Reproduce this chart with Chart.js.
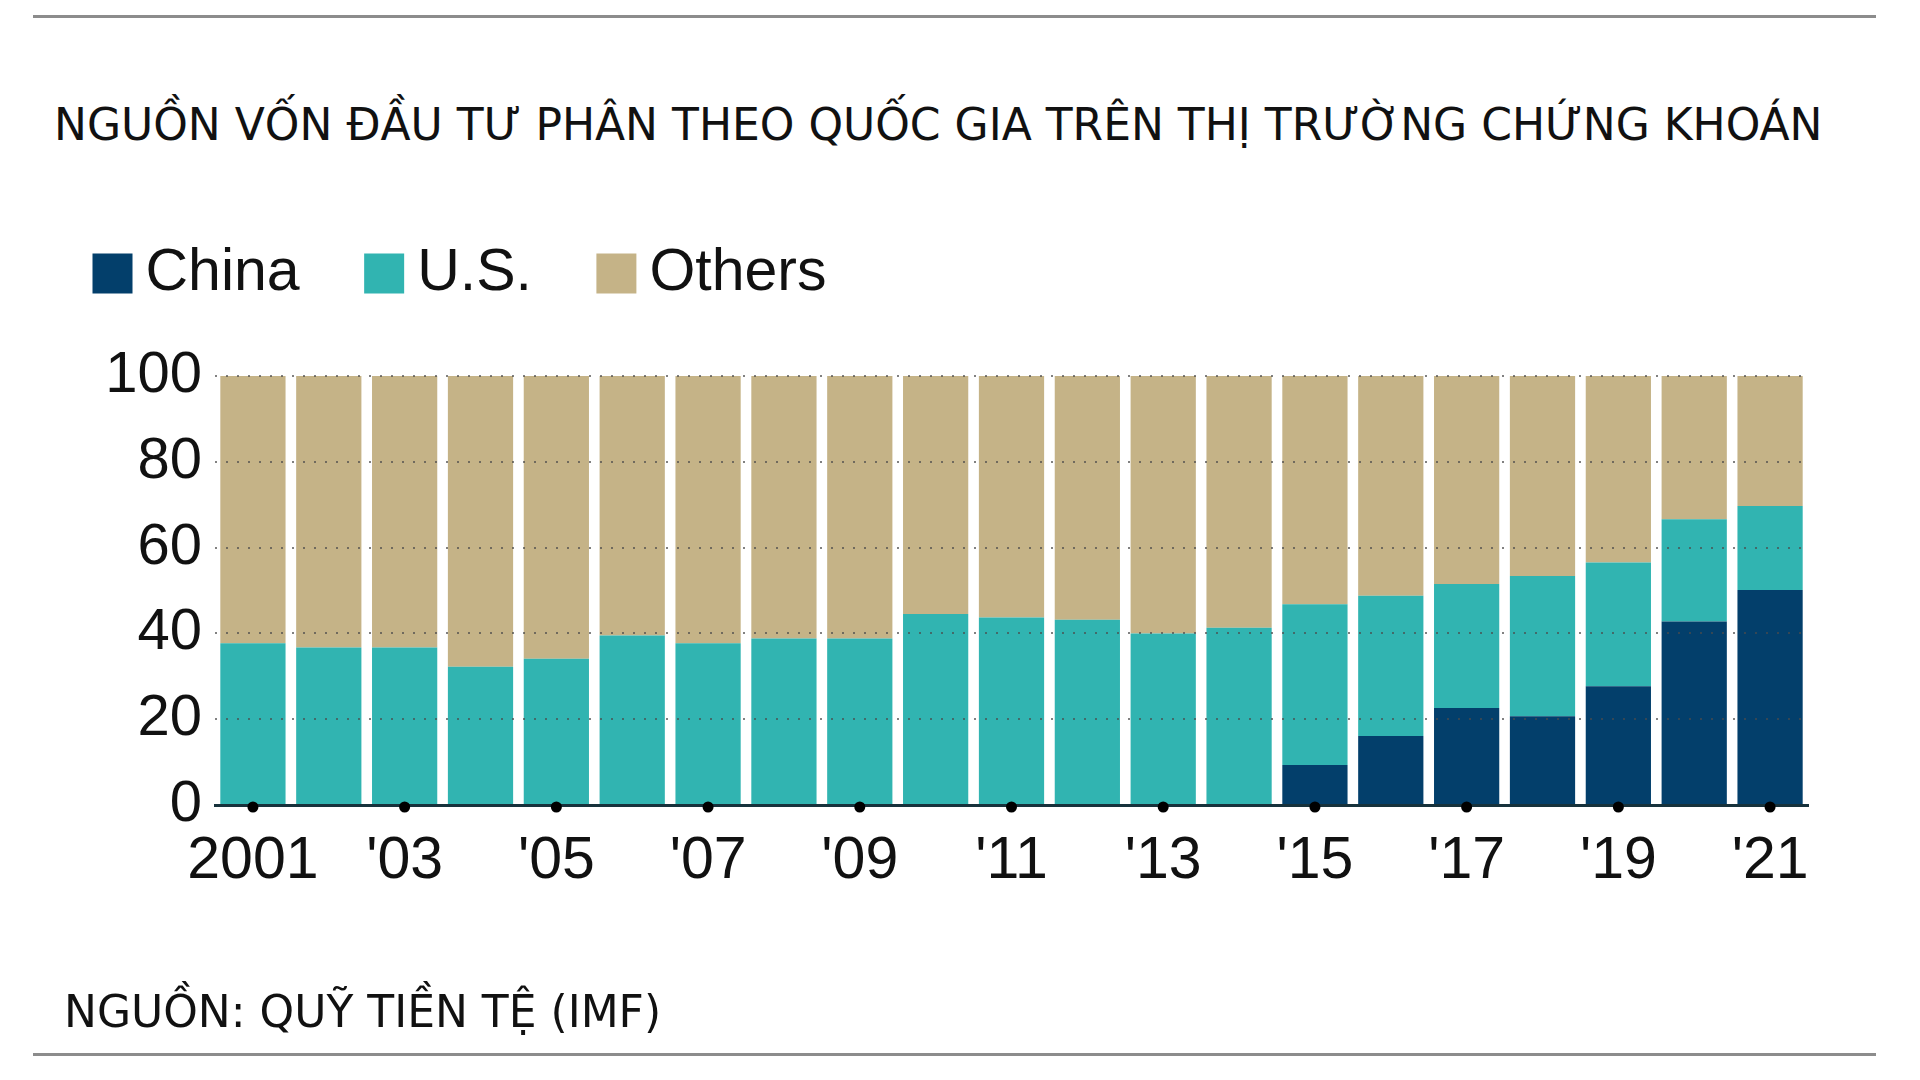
<!DOCTYPE html>
<html>
<head>
<meta charset="utf-8">
<script src="https://cdn.jsdelivr.net/npm/chart.js@4.4.1/dist/chart.umd.min.js"></script>
<style>
  body { margin: 0; background: #fff; }
  #wrap { position: relative; width: 1920px; height: 1080px; overflow: hidden; }
  #chart { position: absolute; left: 0; top: 0; }
  .rule { position: absolute; left: 33px; width: 1843px; height: 3px; background: #8c8c8c; }
  .txt { position: absolute; font-family: "DejaVu Sans", sans-serif; font-size: 44px; color: #111; white-space: nowrap; line-height: 1; }
</style>
</head>
<body>
<div id="wrap">
  <div class="rule" style="top:15px"></div>
  <div class="txt" id="title" style="left:54px; top:103px">NGUỒN VỐN ĐẦU TƯ PHÂN THEO QUỐC GIA TRÊN THỊ TRƯỜNG CHỨNG KHOÁN</div>
  <canvas id="chart" width="1920" height="1080"></canvas>
  <div class="txt" id="source" style="left:64px; top:990px">NGUỒN: QUỸ TIỀN TỆ (IMF)</div>
  <div class="rule" style="top:1053px"></div>
</div>
<script>
// years shown on the axis, odd years only get a label
const years = ["2001", "'02", "'03", "'04", "'05", "'06", "'07", "'08", "'09", "'10",
  "'11", "'12", "'13", "'14", "'15", "'16", "'17", "'18", "'19", "'20", "'21"];

// share of inflows, percent
const china = [0, 0, 0, 0, 0, 0, 0, 0, 0, 0, 0, 0, 0, 0, 9.3, 16.1, 22.6, 20.7, 27.7, 42.8, 50.1];
const us = [37.7, 36.7, 36.7, 32.2, 34.1, 39.5, 37.7, 38.8, 38.8, 44.5, 43.7, 43.2, 40.0, 41.3, 37.5, 32.7, 28.9, 32.7, 28.8, 23.8, 19.6];
const others = [62.3, 63.3, 63.3, 67.8, 65.9, 60.5, 62.3, 61.2, 61.2, 55.5, 56.3, 56.8, 60.0, 58.7, 53.2, 51.2, 48.5, 46.6, 43.5, 33.4, 30.3];

const yTicks = [0, 20, 40, 60, 80, 100];

const labelFont = "'Liberation Sans', Arial, sans-serif";

// extra room between legend and plot
const legendGap = {
  id: "legendGap",
  beforeInit(chart) {
    const fit = chart.legend.fit;
    chart.legend.fit = function () {
      fit.bind(chart.legend)();
      this.height += 63;
    };
  }
};

// black dots on the baseline under each labelled year
const tickDots = {
  id: "tickDots",
  afterDraw(chart) {
    const ctx = chart.ctx;
    const x = chart.scales.x;
    const y0 = chart.scales.y.getPixelForValue(0);
    ctx.save();
    ctx.fillStyle = "#000";
    years.forEach((yr, i) => {
      if (i % 2 !== 0) return;
      ctx.beginPath();
      ctx.arc(x.getPixelForValue(i), y0 + 2, 5.5, 0, Math.PI * 2);
      ctx.fill();
    });
    ctx.restore();
  }
};

new Chart(document.getElementById("chart"), {
  type: "bar",
  data: {
    labels: years,
    datasets: [
      { label: "China", data: china, backgroundColor: "#033f6b" },
      { label: "U.S.", data: us, backgroundColor: "#31b4b1" },
      { label: "Others", data: others, backgroundColor: "#c5b387" }
    ]
  },
  options: {
    responsive: false,
    animation: false,
    datasets: {
      bar: { barPercentage: 0.86, categoryPercentage: 1.0, borderWidth: 0 }
    },
    layout: { padding: { left: 28, top: 163, right: 112, bottom: 175 } },
    plugins: {
      legend: {
        align: "start",
        labels: {
          usePointStyle: true,
          pointStyle: "rect",
          boxWidth: 7,
          boxHeight: 40,
          padding: 81,
          color: "#111",
          font: { family: labelFont, size: 59 }
        }
      },
      tooltip: { enabled: false }
    },
    scales: {
      x: {
        stacked: true,
        afterFit(scale) { scale.height = 100; },
        grid: { display: false, drawTicks: false },
        border: { display: true, color: "#17323c", width: 3, z: 1 },
        ticks: {
          autoSkip: false,
          maxRotation: 0,
          padding: 21,
          color: "#111",
          font: { family: labelFont, size: 59 },
          callback: (v, i) => (i % 2 === 0 ? years[i] : "")
        }
      },
      y: {
        stacked: true,
        min: 0,
        max: 100,
        afterFit(scale) { scale.width = 187; },
        afterBuildTicks(scale) { scale.ticks = yTicks.map(v => ({ value: v })); },
        border: { display: false, dash: [2, 9] },
        grid: {
          z: 1,
          drawTicks: false,
          lineWidth: 2,
          color: ctx => (ctx.tick && ctx.tick.value === 0 ? "rgba(0,0,0,0)" : "rgba(75,75,75,0.7)")
        },
        ticks: {
          padding: 13,
          color: "#111",
          font: { family: labelFont, size: 58 }
        }
      }
    }
  },
  plugins: [legendGap, tickDots]
});
</script>
</body>
</html>
